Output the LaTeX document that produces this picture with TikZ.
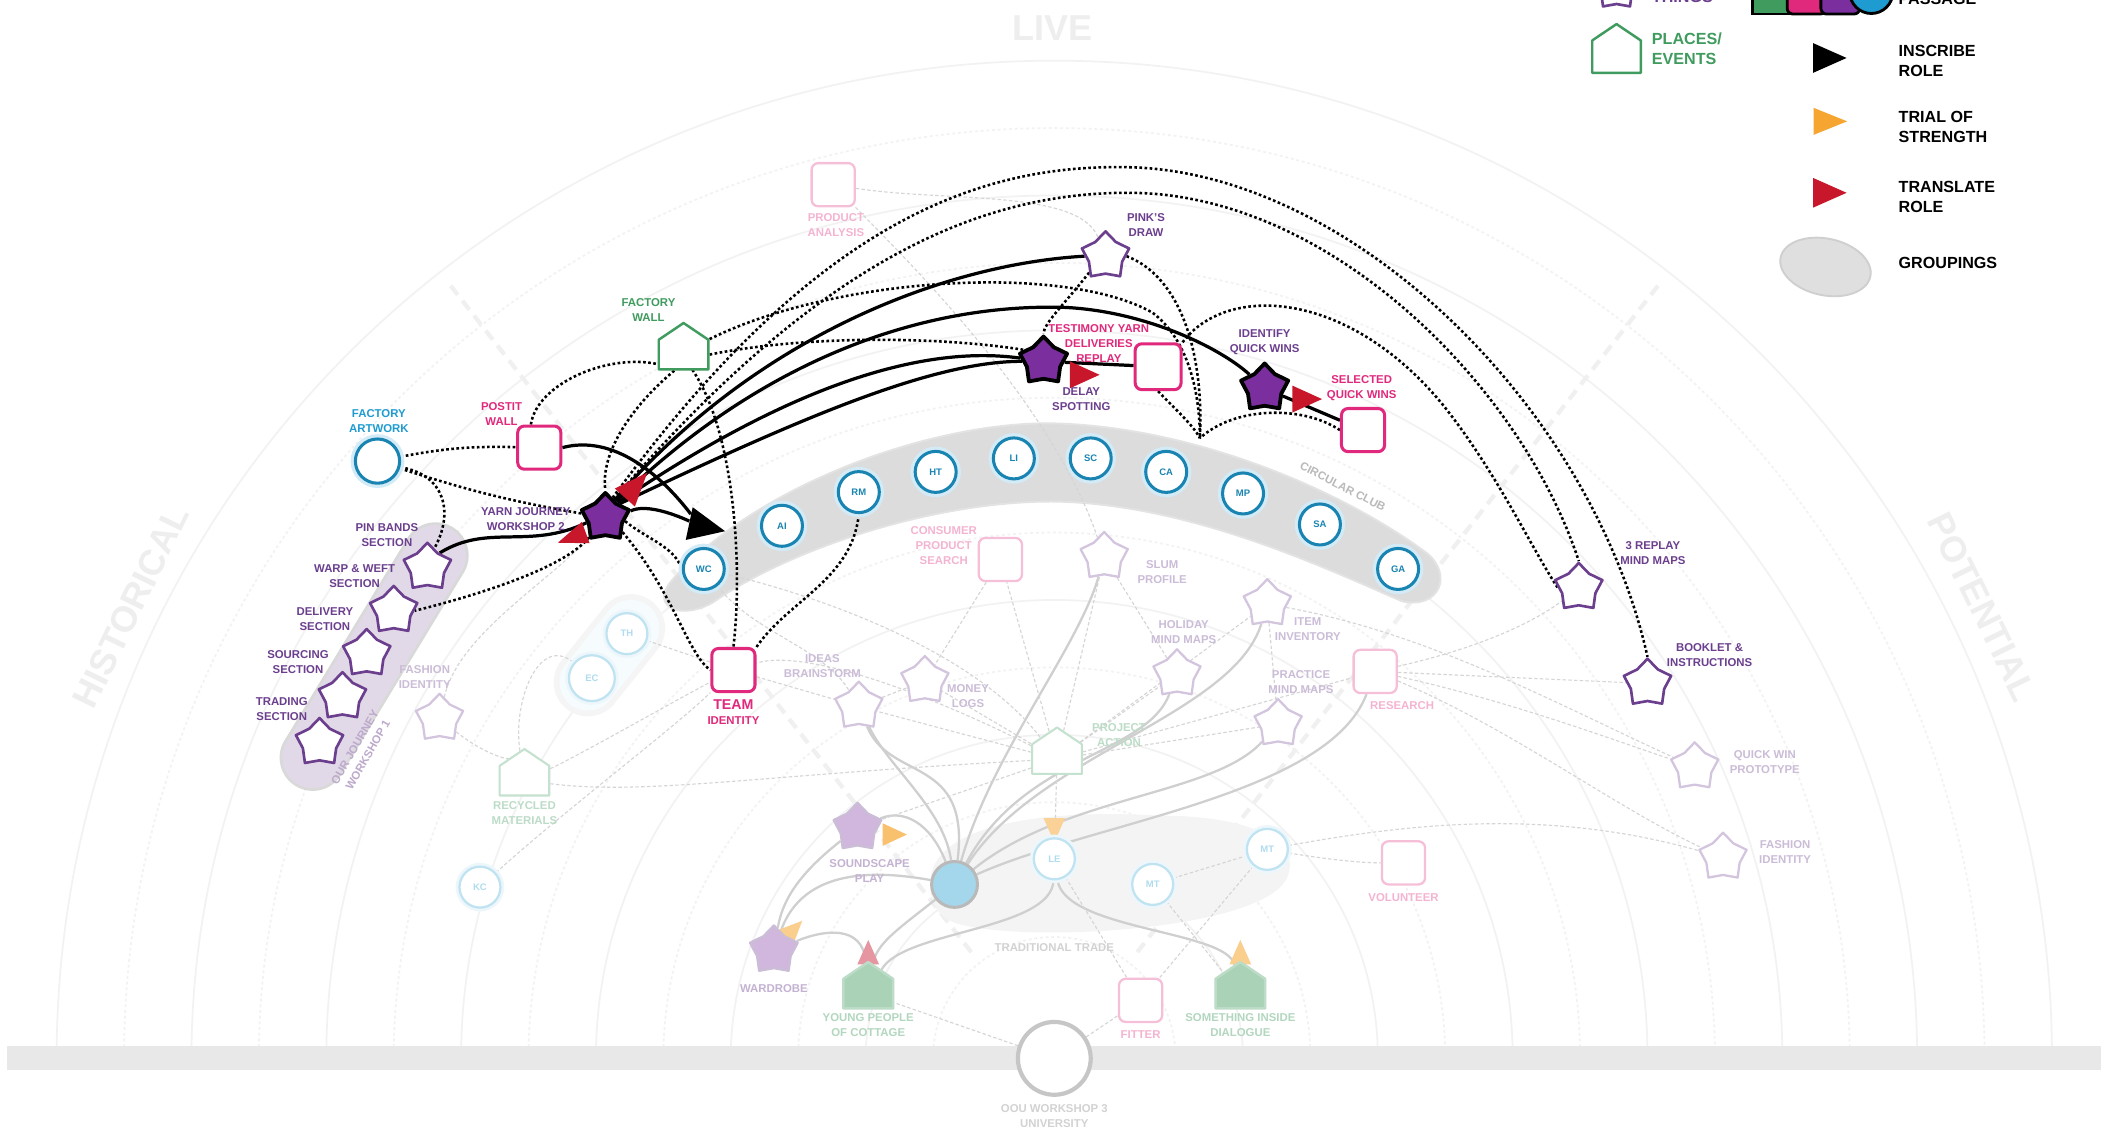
\documentclass[tikz,border=0pt]{standalone}
\usepackage{fontspec}
\setmainfont{Liberation Sans}
\usetikzlibrary{shapes.geometric,shapes.symbols}
\definecolor{cyanc}{HTML}{1E9BD0}
\definecolor{pinkc}{HTML}{E0297C}
\definecolor{purplec}{HTML}{6B3F8E}
\definecolor{purplef}{HTML}{7B2F9E}
\definecolor{greenc}{HTML}{3F9B5E}
\definecolor{redc}{HTML}{C8162B}
\definecolor{orangec}{HTML}{F6A630}
\definecolor{bandc}{HTML}{DCDCDC}
\pgfdeclarelayer{back}
\pgfdeclarelayer{mid}
\pgfsetlayers{back,mid,main}
\tikzset{
  lbl/.style={font=\fontsize{6}{7.9}\selectfont\bfseries, align=center, inner sep=0pt},
  leg/.style={font=\fontsize{8.5}{10.7}\selectfont\bfseries, align=left, inner sep=0pt, anchor=west},
  ghost/.style={font=\fontsize{19}{20}\selectfont\bfseries, text=gray!13, inner sep=0pt},
  thing/.style={star, star points=5, star point ratio=1.42, draw=purplec, line width=1.4pt, line join=round, fill=white, minimum size=0.92cm, inner sep=0pt},
  thingdk/.style={thing, draw=black, fill=purplef, line width=2pt},
  thingft/.style={thing, draw=purplec!30, line width=1.2pt},
  place/.style={signal, signal to=north, signal pointer angle=112, draw=greenc, line width=1.3pt, line join=round, fill=white, minimum width=0.92cm, minimum height=0.55cm, inner sep=0pt},
  placeft/.style={place, draw=greenc!30, line width=1.1pt},
  actor/.style={circle, draw=cyanc!85!black, line width=1.6pt, fill=white, minimum size=0.76cm, inner sep=0pt, text=cyanc!85!black, font=\fontsize{5}{6}\selectfont\bfseries, preaction={draw=cyanc!20, line width=5pt}},
  actorft/.style={circle, draw=cyanc!28, line width=1.2pt, fill=white, minimum size=0.76cm, inner sep=0pt, text=cyanc!35, font=\fontsize{5}{6}\selectfont\bfseries, preaction={draw=cyanc!8, line width=4pt}},
  event/.style={rectangle, rounded corners=3.5pt, draw=pinkc, line width=1.6pt, fill=white, minimum size=0.8cm, inner sep=0pt},
  eventft/.style={event, draw=pinkc!30, line width=1.2pt},
  tip/.style={isosceles triangle, isosceles triangle apex angle=70, isosceles triangle stretches, inner sep=0pt, minimum width=0.5cm, minimum height=0.55cm, draw=none},
  dotc/.style={draw=black, line width=1.35pt, dash pattern=on 1.4pt off 1.3pt},
  solc/.style={draw=black, line width=1.7pt},
  fdash/.style={draw=gray!33, line width=0.6pt, dash pattern=on 1.8pt off 1.2pt},
  fsol/.style={draw=gray!38, line width=1.2pt},
  bgarc/.style={draw=gray!10, line width=0.9pt},
}
\begin{document}
\begin{tikzpicture}[x=0.025cm,y=-0.025cm]
\useasboundingbox (0,0) rectangle (1568,843);

\begin{pgfonlayer}{back}
\fill[white] (0,0) rectangle (1568,843);
% rings of the time field
\foreach \r in {140,240,340,440,540,640,740}
  \draw[bgarc] ({782-\r},785) arc[start angle=180,end angle=360,radius=\r];
\foreach \r in {90,190,290,390,490,590,690}
  \draw[bgarc, dash pattern=on 1.5pt off 1.5pt] ({782-\r},785) arc[start angle=180,end angle=360,radius=\r];
\foreach \a in {-128,-52}
  \draw[draw=gray!12, line width=2.2pt, dash pattern=on 6pt off 4pt] (782,785) ++(\a:100) -- ++(\a:630);
\fill[gray!18] (5,776) rectangle (1558,794);
\node[ghost] (live) at (781,21) {LIVE};
\node[ghost, rotate=64] (hist) at (97,450) {HISTORICAL};
\node[ghost, rotate=-64] (pot) at (1470,450) {POTENTIAL};

% groupings
\path[fill=bandc, draw=gray!22, line width=1pt] (497,432) .. controls (560,360) and (690,313) .. (780,314) .. controls (880,316) and (990,360) .. (1058,410) .. controls (1078,426) and (1068,452) .. (1040,446) .. controls (980,420) and (880,373) .. (780,372) .. controls (690,372) and (585,408) .. (530,446) .. controls (508,460) and (482,452) .. cycle;
\draw[line cap=round, draw=gray!30, line width=35pt] (323,412) -- (232,562);
\draw[line cap=round, draw=purplec!20, line width=32pt] (323,412) -- (232,562);
\draw[line cap=round, draw=gray!8, line width=36pt] (468,466) -- (436,506);
\draw[line cap=round, draw=cyanc!4, line width=30pt] (468,466) -- (436,506);
\path[fill=gray!9] (690,655) .. controls (690,610) and (780,600) .. (860,605) .. controls (930,605) and (965,625) .. (955,650) .. controls (940,690) and (760,700) .. (710,685) .. controls (695,680) and (690,670) .. cycle;
\end{pgfonlayer}

% legend
\node[thing, minimum size=0.85cm] (lgthing) at (1199,-9) {};
\node[leg, text=purplec] (lgthingt) at (1225,-2) {THINGS};
\node[place, minimum width=0.9cm, minimum height=0.6cm] (lgplace) at (1199,42) {};
\node[leg, text=greenc] (lgplacet) at (1225,36) {PLACES/\\EVENTS};
\node[rectangle, fill=greenc, draw=black, line width=1.5pt, minimum size=0.72cm] (lgp1) at (1314,-4) {};
\node[rectangle, rounded corners=3pt, fill=pinkc, draw=black, line width=1.5pt, minimum size=0.72cm] (lgp2) at (1340,-4) {};
\node[rectangle, rounded corners=3pt, fill=purplef, draw=black, line width=1.5pt, minimum size=0.72cm] (lgp3) at (1365,-4) {};
\node[circle, fill=cyanc, draw=black, line width=1.5pt, minimum size=0.8cm] (lgp4) at (1388,-6) {};
\node[leg] (lgpasst) at (1408,-1) {PASSAGE};
\node[tip, fill=black, minimum width=0.55cm, minimum height=0.62cm] (lgins) at (1352,43) {};
\node[leg] (lginst) at (1408,45) {INSCRIBE\\ROLE};
\node[tip, fill=orangec, minimum width=0.5cm, minimum height=0.62cm] (lgtri) at (1352,90) {};
\node[leg] (lgtrit) at (1408,94) {TRIAL OF\\STRENGTH};
\node[tip, fill=redc, minimum width=0.55cm, minimum height=0.62cm] (lgtra) at (1352,143) {};
\node[leg] (lgtrat) at (1408,146) {TRANSLATE\\ROLE};
\node[ellipse, fill=gray!25, draw=gray!38, line width=1pt, minimum width=1.7cm, minimum height=1.05cm, rotate=-12] (lggrp) at (1354,198) {};
\node[leg] (lggrpt) at (1408,195) {GROUPINGS};

% faint background actors
\node[eventft] (overlap) at (618,137) {};
\node[lbl, text=pinkc!35] (overlapl) at (620,167) {PRODUCT\\ANALYSIS};
\node[eventft] (consumer) at (742,415) {};
\node[lbl, text=pinkc!35] (consumerl) at (700,405) {CONSUMER\\PRODUCT\\SEARCH};
\node[thingft] (slum) at (819,413) {};
\node[lbl, text=purplec!35] (sluml) at (862,424) {SLUM\\PROFILE};
\node[thingft] (item) at (940,448) {};
\node[lbl, text=purplec!35] (iteml) at (970,467) {ITEM\\INVENTORY};
\node[thingft] (holiday) at (873,500) {};
\node[lbl, text=purplec!35] (holidayl) at (878,469) {HOLIDAY\\MIND MAPS};
\node[thingft] (practice) at (948,537) {};
\node[lbl, text=purplec!35] (practicel) at (965,506) {PRACTICE\\MIND MAPS};
\node[eventft] (research) at (1020,498) {};
\node[lbl, text=pinkc!35] (researchl) at (1040,523) {RESEARCH};
\node[thingft] (ideas) at (637,524) {};
\node[lbl, text=purplec!35] (ideasl) at (610,494) {IDEAS\\BRAINSTORM};
\node[thingft] (money) at (686,505) {};
\node[lbl, text=purplec!35] (moneyl) at (718,516) {MONEY\\LOGS};
\node[placeft] (project) at (784,563) {};
\node[lbl, text=greenc!35] (projectl) at (830,545) {PROJECT\\ACTION};
\node[thingft] (fashl) at (326,533) {};
\node[lbl, text=purplec!35] (fashll) at (315,502) {FASHION\\IDENTITY};
\node[placeft] (recyc) at (389,579) {};
\node[lbl, text=greenc!35] (recycl) at (389,603) {RECYCLED\\MATERIALS};
\node[actorft] (kc) at (356,658) {KC};
\node[actorft] (th) at (465,470) {TH};
\node[actorft, minimum size=0.85cm] (ec) at (439,503) {EC};
\node[thingft] (qwin) at (1257,569) {};
\node[lbl, text=purplec!35] (qwinl) at (1309,565) {QUICK WIN\\PROTOTYPE};
\node[thingft] (fashr) at (1278,636) {};
\node[lbl, text=purplec!35] (fashrl) at (1324,632) {FASHION\\IDENTITY};
\node[tip, fill=orangec!70, minimum width=0.42cm, minimum height=0.45cm] (sndtip) at (660,619) {};
\node[thing, draw=purplec!35, fill=purplef!35] (sound) at (636,614) {};
\node[lbl, text=purplec!40] (soundl) at (645,646) {SOUNDSCAPE\\PLAY};
\node[circle, draw=gray!55, fill=cyanc!40, line width=1.6pt, minimum size=0.85cm] (bluec) at (708,656) {};
\node[tip, fill=orangec!50, rotate=-90, minimum width=0.4cm, minimum height=0.45cm] (letip) at (782,612) {};
\node[actorft] (le) at (782,637) {LE};
\node[actorft] (mta) at (855,656) {MT};
\node[actorft] (mtb) at (940,630) {MT};
\node[eventft] (volun) at (1041,640) {};
\node[lbl, text=pinkc!35] (volunl) at (1041,666) {VOLUNTEER};
\node[tip, fill=orangec!55, rotate=45, minimum width=0.4cm, minimum height=0.45cm] (wardtip) at (586,692) {};
\node[thing, draw=purplec!35, fill=purplef!35] (ward) at (574,705) {};
\node[lbl, text=purplec!40] (wardl) at (574,733) {WARDROBE};
\node[tip, fill=redc!45, rotate=90, minimum width=0.4cm, minimum height=0.45cm] (youngtip) at (644,710) {};
\node[place, draw=greenc!35, fill=greenc!45] (young) at (644,737) {};
\node[lbl, text=greenc!40] (youngl) at (644,760) {YOUNG PEOPLE\\OF COTTAGE};
\node[lbl, text=gray!35] (trad) at (782,703) {TRADITIONAL TRADE};
\node[eventft] (fitter) at (846,742) {};
\node[lbl, text=pinkc!35] (fitterl) at (846,767) {FITTER};
\node[tip, fill=orangec!55, rotate=90, minimum width=0.4cm, minimum height=0.45cm] (insidetip) at (920,710) {};
\node[place, draw=greenc!35, fill=greenc!45] (inside) at (920,737) {};
\node[lbl, text=greenc!40] (insidel) at (920,760) {SOMETHING INSIDE\\DIALOGUE};
\node[circle, draw=gray!45, line width=2.2pt, fill=white, minimum size=1.35cm] (ws3) at (782,785) {};
\node[lbl, text=gray!35] (ws3l) at (782,828) {OOU WORKSHOP 3\\UNIVERSITY};

% the circle of actors
\node[actor] (wc) at (522,422) {WC};
\node[actor] (ai) at (580,390) {AI};
\node[actor] (rm) at (637,365) {RM};
\node[actor] (ht) at (694,350) {HT};
\node[actor] (li) at (752,340) {LI};
\node[actor] (sc) at (809,340) {SC};
\node[actor] (ca) at (865,350) {CA};
\node[actor] (mp) at (922,366) {MP};
\node[actor] (sa) at (979,389) {SA};
\node[actor] (ga) at (1037,422) {GA};
\node[lbl, text=gray!55, rotate=-27] (clubl) at (996,361) {CIRCULAR CLUB};

% workshop 1 sections
\node[thing] (s1) at (317,421) {};
\node[thing] (s2) at (292,453) {};
\node[thing] (s3) at (272,485) {};
\node[thing] (s4) at (254,517) {};
\node[thing] (s5) at (237,551) {};
\node[lbl, text=purplec] (s1l) at (287,397) {PIN BANDS\\SECTION};
\node[lbl, text=purplec] (s2l) at (263,427) {WARP \& WEFT\\SECTION};
\node[lbl, text=purplec] (s3l) at (241,459) {DELIVERY\\SECTION};
\node[lbl, text=purplec] (s4l) at (221,491) {SOURCING\\SECTION};
\node[lbl, text=purplec] (s5l) at (209,526) {TRADING\\SECTION};
\node[lbl, text=purplec!45, rotate=60] (grpl) at (268,557) {OUR JOURNEY\\WORKSHOP 1};

% workshop 2 actors
\node[actor, minimum size=0.82cm] (art) at (280,342) {};
\node[lbl, text=cyanc] (artl) at (281,312) {FACTORY\\ARTWORK};
\node[event] (postit) at (400,332) {};
\node[lbl, text=pinkc] (postitl) at (372,307) {POSTIT\\WALL};
\node[place] (fwall) at (507,263) {};
\node[lbl, text=greenc] (fwalll) at (481,230) {FACTORY\\WALL};
\node[tip, fill=redc, rotate=48, minimum width=0.5cm, minimum height=0.62cm] (tra) at (468,364) {};
\node[tip, fill=redc, rotate=200, minimum width=0.42cm, minimum height=0.55cm] (trb) at (429,397) {};
\node[thingdk] (yarn) at (449,384) {};
\node[lbl, text=purplec] (yarnl) at (390,385) {YARN JOURNEY\\WORKSHOP 2};
\node[tip, fill=black, rotate=-12, minimum width=0.62cm, minimum height=0.68cm] (ins) at (519,390) {};
\node[event] (team) at (544,497) {};
\node[lbl, text=pinkc] (teaml) at (544,528) {{\fontsize{7.5}{8}\selectfont TEAM}\\IDENTITY};
\node[thing] (pinks) at (820,190) {};
\node[lbl, text=purplec] (pinksl) at (850,167) {PINK'S\\DRAW};
\node[tip, fill=redc, minimum width=0.5cm, minimum height=0.55cm] (trc) at (800,278) {};
\node[thingdk] (cost) at (774,268) {};
\node[lbl, text=pinkc] (costl) at (815,255) {TESTIMONY YARN\\DELIVERIES\\REPLAY};
\node[lbl, text=purplec] (delayl) at (802,296) {DELAY\\SPOTTING};
\node[event, minimum size=0.85cm] (costsq) at (859,272) {};
\node[tip, fill=redc, minimum width=0.5cm, minimum height=0.55cm] (trd) at (965,296) {};
\node[thingdk] (idq) at (938,288) {};
\node[lbl, text=purplec] (idql) at (938,254) {IDENTIFY\\QUICK WINS};
\node[event] (selq) at (1011,319) {};
\node[lbl, text=pinkc] (selql) at (1010,288) {SELECTED\\QUICK WINS};
\node[thing] (replay) at (1171,436) {};
\node[lbl, text=purplec] (replayl) at (1226,410) {3 REPLAY\\MIND MAPS};
\node[thing] (booklet) at (1222,507) {};
\node[lbl, text=purplec] (bookletl) at (1268,486) {BOOKLET \&\\INSTRUCTIONS};
\coordinate (jn) at (890,325);

\begin{pgfonlayer}{mid}
% faint links of the earlier and later workshops
\draw[fsol] (bluec) .. controls (760,560) and (850,560) .. (holiday);
\draw[fsol] (bluec) .. controls (790,590) and (900,590) .. (practice);
\draw[fsol] (bluec) .. controls (810,610) and (985,590) .. (research);
\draw[fsol] (bluec) .. controls (770,560) and (915,530) .. (item);
\draw[fsol] (bluec) .. controls (735,560) and (800,480) .. (slum);
\draw[fsol] (bluec) .. controls (690,610) and (670,600) .. (sound);
\draw[fsol] (bluec) .. controls (620,640) and (590,660) .. (ward);
\draw[fsol] (bluec) .. controls (700,600) and (660,570) .. (ideas);
\draw[fsol] (bluec) .. controls (665,690) and (650,700) .. (young);
\draw[fsol] (sound) .. controls (590,650) and (580,670) .. (ward);
\draw[fsol] (ward) .. controls (610,690) and (640,685) .. (young);
\draw[fsol] (le) .. controls (780,690) and (670,690) .. (young);
\draw[fsol] (le) .. controls (790,690) and (910,690) .. (inside);
\draw[fsol] (ideas) .. controls (660,580) and (720,560) .. (bluec);
\draw[fdash] (project) -- (ideas);
\draw[fdash] (project) -- (money);
\draw[fdash] (project) -- (consumer);
\draw[fdash] (project) -- (slum);
\draw[fdash] (project) -- (item);
\draw[fdash] (project) -- (holiday);
\draw[fdash] (project) -- (practice);
\draw[fdash] (project) -- (research);
\draw[fdash] (project) .. controls (700,520) and (600,480) .. (team);
\draw[fdash] (project) .. controls (720,480) and (600,440) .. (wc);
\draw[fdash] (project) -- (sound);
\draw[fdash] (project) -- (le);
\draw[fdash] (research) .. controls (1100,480) and (1140,460) .. (replay);
\draw[fdash] (research) -- (booklet);
\draw[fdash] (research) .. controls (1120,520) and (1200,550) .. (qwin);
\draw[fdash] (research) .. controls (1120,540) and (1200,600) .. (fashr);
\draw[fdash] (item) .. controls (1060,470) and (1150,520) .. (qwin);
\draw[fdash] (mtb) .. controls (1050,610) and (1150,600) .. (fashr);
\draw[fdash] (mtb) .. controls (1000,640) and (1020,640) .. (volun);
\draw[fdash] (mta) -- (mtb);
\draw[fdash] (le) -- (fitter);
\draw[fdash] (mtb) -- (fitter);
\draw[fdash] (mta) -- (inside);
\draw[fdash] (ws3) -- (fitter);
\draw[fdash] (ws3) -- (young);
\draw[fdash] (fashl) .. controls (360,560) and (380,565) .. (recyc);
\draw[fdash] (recyc) .. controls (430,560) and (500,520) .. (team);
\draw[fdash] (recyc) .. controls (480,590) and (560,575) .. (project);
\draw[fdash] (kc) .. controls (420,600) and (500,540) .. (team);
\draw[fdash] (th) -- (team);
\draw[fdash] (fashl) .. controls (340,470) and (410,430) .. (yarn);
\draw[fdash] (recyc) .. controls (380,520) and (400,470) .. (ec);
\draw[fdash] (team) -- (ideas);
\draw[fdash] (ideas) -- (money);
\draw[fdash] (overlap) .. controls (680,200) and (780,300) .. (slum);
\draw[fdash] (overlap) .. controls (700,150) and (800,140) .. (pinks);
\draw[fdash] (wc) .. controls (560,470) and (610,480) .. (ideas);
\draw[fdash] (consumer) -- (money);
\draw[fdash] (slum) -- (holiday);
\draw[fdash] (item) -- (practice);

% workshop 2 dotted links
\draw[dotc] (art) to[bend left=6] (postit);
\draw[dotc] (art) to[bend right=4] (yarn);
\draw[dotc] (art.-15) .. controls (330,352) and (337,380) .. (s1.70);
\draw[dotc] (postit.110) .. controls (398,285) and (450,262) .. (fwall.200);
\draw[dotc] (fwall.240) .. controls (470,300) and (445,335) .. (yarn.north);
\draw[dotc] (fwall.300) .. controls (545,320) and (551,420) .. (team.north);
\draw[dotc] (fwall.east) .. controls (600,248) and (700,250) .. (cost.150);
\draw[dotc] (fwall.north east) .. controls (620,205) and (790,195) .. (855,232) .. controls (885,255) and (890,300) .. (jn);
\draw[dotc] (pinks.225) .. controls (790,225) and (774,240) .. (cost.north);
\draw[dotc] (pinks.east) .. controls (875,205) and (893,260) .. (jn);
\draw[dotc] (costsq.south) .. controls (868,300) and (885,315) .. (jn);
\draw[dotc] (selq.west) .. controls (965,300) and (915,302) .. (jn);
\draw[dotc] (yarn.70) .. controls (600,170) and (720,122) .. (835,124) .. controls (1000,126) and (1180,300) .. (booklet.north);
\draw[dotc] (yarn.65) .. controls (610,190) and (730,142) .. (840,143) .. controls (990,145) and (1130,290) .. (replay.north);
\draw[dotc] (costsq.north east) .. controls (910,210) and (1000,215) .. (1070,300) .. controls (1110,350) and (1135,405) .. (replay.west);
\draw[dotc] (yarn.-10) .. controls (480,400) and (500,405) .. (wc.west);
\draw[dotc] (yarn.-40) .. controls (500,440) and (510,485) .. (team.west);
\draw[dotc] (yarn.230) .. controls (420,420) and (360,440) .. (s2.east);
\draw[dotc] (team.north east) .. controls (585,445) and (632,430) .. (rm.south);

% workshop 2 inscriptions
\draw[solc] (s1.50) .. controls (362,388) and (392,408) .. (yarn.195);
\draw[solc] (yarn.15) .. controls (478,374) and (497,380) .. (ins);
\draw[solc] (postit.east) .. controls (455,322) and (490,352) .. (ins);
\draw[solc] (yarn.62) .. controls (560,250) and (700,196) .. (pinks.west);
\draw[solc] (yarn.56) .. controls (570,262) and (690,225) .. (790,228) .. controls (850,231) and (905,258) .. (idq);
\draw[solc] (yarn.50) .. controls (580,290) and (680,255) .. (cost);
\draw[solc] (yarn.44) .. controls (590,312) and (690,268) .. (cost);
\draw[solc] (cost) -- (costsq);
\draw[solc] (idq) -- (selq);
\end{pgfonlayer}
\end{tikzpicture}
\end{document}
